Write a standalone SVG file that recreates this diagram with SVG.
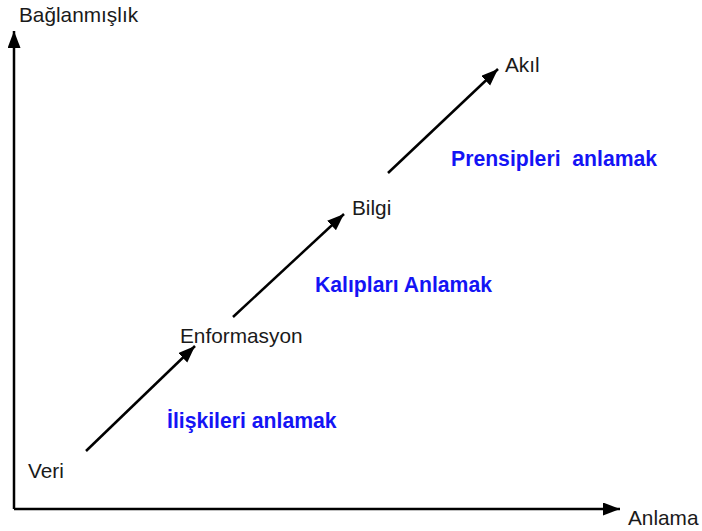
<svg xmlns="http://www.w3.org/2000/svg" width="702" height="531" viewBox="0 0 702 531">
<style>
.lbl{font-family:"Liberation Sans",Arial,sans-serif;font-size:20.8px;fill:#1a1a1a}
.blue{font-family:"Liberation Sans",Arial,sans-serif;font-size:21.2px;font-weight:bold;fill:#1414f5;white-space:pre}
.ln{stroke:#000;stroke-width:2.5;fill:none}
</style>
<defs>
<marker id="ah" markerUnits="userSpaceOnUse" markerWidth="18" markerHeight="14" refX="17" refY="6.5" orient="auto">
<path d="M0,0 L17,6.5 L0,13 Z" fill="#000"/>
</marker>
</defs>
<g id="connectors">
<path class="ln" d="M14,509 L14,31" marker-end="url(#ah)"/>
<path class="ln" d="M14,509 L620,509" marker-end="url(#ah)"/>
<path class="ln" d="M86,451 L195,346" marker-end="url(#ah)"/>
<path class="ln" d="M233,317 L344,214" marker-end="url(#ah)"/>
<path class="ln" d="M388,173 L498,69" marker-end="url(#ah)"/>
</g>
<g id="axis-y"><text class="lbl" x="19" y="22">Bağlanmışlık</text></g>
<g id="axis-x"><text class="lbl" x="628" y="525">Anlama</text></g>
<g id="veri"><text class="lbl" x="28" y="478">Veri</text></g>
<g id="enformasyon"><text class="lbl" x="180" y="343">Enformasyon</text></g>
<g id="bilgi"><text class="lbl" x="352" y="215">Bilgi</text></g>
<g id="akil"><text class="lbl" x="505" y="72">Akıl</text></g>
<g id="iliskileri"><text class="blue" x="167" y="428">İlişkileri anlamak</text></g>
<g id="kaliplari"><text class="blue" x="315" y="292">Kalıpları Anlamak</text></g>
<g id="prensipleri"><text class="blue" x="451" y="166" xml:space="preserve">Prensipleri  anlamak</text></g>
</svg>
